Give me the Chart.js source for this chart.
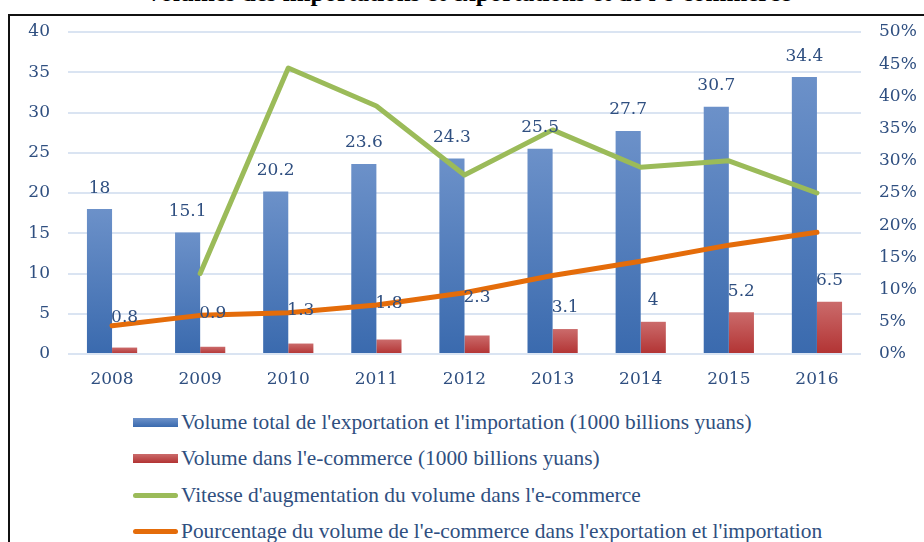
<!DOCTYPE html>
<html>
<head>
<meta charset="utf-8">
<script src="https://cdn.jsdelivr.net/npm/chart.js@4.4.1/dist/chart.umd.min.js"></script>
<style>
html,body{margin:0;padding:0;width:924px;height:542px;overflow:hidden;background:#fff;}
#wrap{position:relative;width:924px;height:542px;overflow:hidden;}
#title{position:absolute;left:0;width:936px;top:-20px;text-align:center;font:bold 25px "Liberation Serif";line-height:25px;color:#000;white-space:nowrap;}
#chartbox{position:absolute;left:0;top:0;width:924px;height:400px;}
#frame{position:absolute;left:8px;top:14px;width:940px;height:620px;border:2px solid #111;pointer-events:none;}
.item{position:absolute;left:133px;height:24px;line-height:24px;display:flex;align-items:center;font:21.4px "Liberation Serif";color:#2F4F80;white-space:nowrap;}
.sw{width:45px;height:9px;margin-right:3px;flex:none;}
.ln{width:45px;height:5px;border-radius:3px;margin-right:3px;flex:none;}
</style>
</head>
<body>
<div id="wrap">
  <div id="title">Volumes des importations et exportations et de l'e-commerce</div>
  <div id="chartbox"><canvas id="c" width="924" height="400"></canvas></div>
  <div id="legend"></div>
  <div id="frame"></div>
</div>
<script>
// ---- data ----
const categories = ['2008', '2009', '2010', '2011', '2012', '2013', '2014', '2015', '2016'];
const totalVolume = [18, 15.1, 20.2, 23.6, 24.3, 25.5, 27.7, 30.7, 34.4];
const ecommerceVolume = [0.8, 0.9, 1.3, 1.8, 2.3, 3.1, 4, 5.2, 6.5];
const growthRate = [null, 12.5, 44.4, 38.5, 27.8, 34.8, 29.0, 30.0, 25.0];
const ecommerceShare = [4.4, 6.0, 6.4, 7.6, 9.5, 12.2, 14.4, 16.9, 18.9];
const seriesNames = [
  "Volume total de l'exportation et l'importation (1000 billions yuans)",
  "Volume dans l'e-commerce (1000 billions yuans)",
  "Vitesse d'augmentation du volume dans l'e-commerce",
  "Pourcentage du volume de l'e-commerce dans l'exportation et l'importation"
];

const TEXT = '#2F4F80';
const NUMFONT = '"DejaVu Serif"';

function barGradient(top, bottom) {
  return (c) => {
    const chart = c.chart;
    if (!chart.chartArea || c.type !== 'data') return bottom;
    const ys = chart.scales.y;
    const y0 = ys.getPixelForValue(c.raw);
    const y1 = ys.getPixelForValue(0);
    if (!isFinite(y0) || !isFinite(y1) || Math.abs(y1 - y0) < 1) return bottom;
    const g = chart.ctx.createLinearGradient(0, y0, 0, y1);
    g.addColorStop(0, top);
    g.addColorStop(1, bottom);
    return g;
  };
}

const barLabels = {
  id: 'barLabels',
  afterDatasetsDraw(chart, args, opts) {
    const ctx = chart.ctx;
    ctx.save();
    ctx.font = '17px ' + NUMFONT;
    ctx.fillStyle = TEXT;
    ctx.textAlign = 'center';
    ctx.textBaseline = 'middle';
    [0, 1].forEach(di => {
      const meta = chart.getDatasetMeta(di);
      const ds = chart.data.datasets[di];
      meta.data.forEach((el, i) => {
        const off = opts.offsets[di][i];
        ctx.fillText(String(ds.data[i]), el.x, el.y - off);
      });
    });
    ctx.restore();
  }
};

new Chart(document.getElementById('c'), {
  data: {
    labels: categories,
    datasets: [
      {
        type: 'bar', label: seriesNames[0], data: totalVolume, yAxisID: 'y', order: 2,
        backgroundColor: barGradient('#6C91C9', '#3A6AAE'),
        categoryPercentage: 0.57, barPercentage: 1.0
      },
      {
        type: 'bar', label: seriesNames[1], data: ecommerceVolume, yAxisID: 'y', order: 2,
        backgroundColor: barGradient('#CB6B6B', '#B23333'),
        categoryPercentage: 0.57, barPercentage: 1.0
      },
      {
        type: 'line', label: seriesNames[2], data: growthRate, yAxisID: 'y1', order: 0,
        borderColor: '#9BBB59', borderWidth: 5, pointRadius: 0, tension: 0,
        borderCapStyle: 'round', borderJoinStyle: 'round', fill: false
      },
      {
        type: 'line', label: seriesNames[3], data: ecommerceShare, yAxisID: 'y1', order: 1,
        borderColor: '#E46C0A', borderWidth: 5, pointRadius: 0, tension: 0,
        borderCapStyle: 'round', borderJoinStyle: 'round', fill: false
      }
    ]
  },
  options: {
    responsive: false,
    animation: false,
    layout: { padding: { top: 32, left: 0, right: 0, bottom: 0 } },
    plugins: {
      legend: { display: false },
      title: { display: false },
      tooltip: { enabled: false },
      barLabels: {
        offsets: [
          [21, 21, 21, 21, 21, 21, 21, 21, 21],
          [30, 33, 33, 36, 38, 21, 21, 21, 21]
        ]
      }
    },
    scales: {
      x: {
        offset: true,
        grid: { display: false, drawTicks: false },
        border: { display: false },
        ticks: { color: TEXT, font: { family: NUMFONT, size: 17 }, padding: 15, maxRotation: 0 },
        afterFit: (s) => { s.height = 46; }
      },
      y: {
        position: 'left', min: 0, max: 40,
        ticks: { stepSize: 5, color: TEXT, font: { family: NUMFONT, size: 17 }, padding: 18 },
        grid: { color: '#DAE4F2', lineWidth: 2, drawTicks: false },
        border: { display: false },
        afterFit: (s) => { s.width = 68; }
      },
      y1: {
        position: 'right', min: 0, max: 50,
        ticks: { stepSize: 5, color: TEXT, font: { family: NUMFONT, size: 17 }, padding: 18,
                 callback: (v) => v + '%' },
        grid: { display: false, drawTicks: false },
        border: { display: false },
        afterFit: (s) => { s.width = 63; }
      }
    }
  },
  plugins: [barLabels]
});

// ---- HTML legend ----
const legendStyles = [
  { cls: 'sw', bg: 'linear-gradient(#6C91C9,#3A6AAE)' },
  { cls: 'sw', bg: 'linear-gradient(#CB6B6B,#B23333)' },
  { cls: 'ln', bg: '#9BBB59' },
  { cls: 'ln', bg: '#E46C0A' }
];
const legendTops = [410, 446.5, 483, 519.5];
const legend = document.getElementById('legend');
seriesNames.forEach((name, i) => {
  const row = document.createElement('div');
  row.className = 'item';
  row.style.top = legendTops[i] + 'px';
  const sw = document.createElement('span');
  sw.className = legendStyles[i].cls;
  sw.style.background = legendStyles[i].bg;
  const tx = document.createElement('span');
  tx.textContent = name;
  row.appendChild(sw);
  row.appendChild(tx);
  legend.appendChild(row);
});
</script>
</body>
</html>
